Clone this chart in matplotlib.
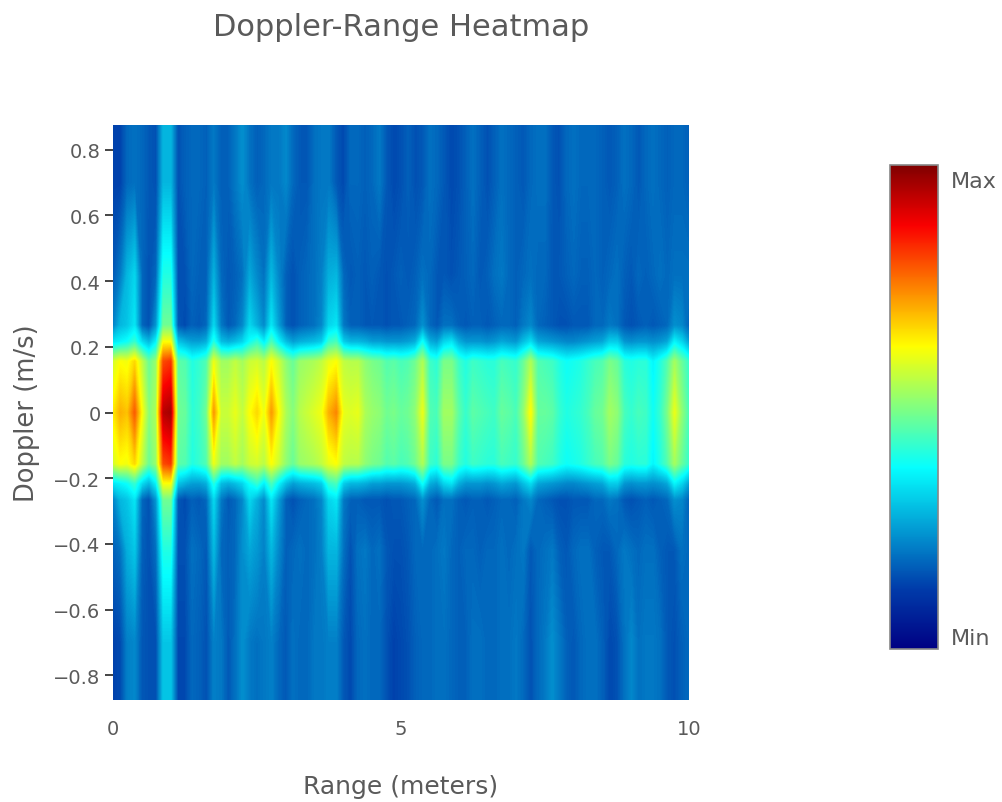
import numpy as np
import matplotlib
matplotlib.use("Agg")
import matplotlib.pyplot as plt
from matplotlib.colors import LinearSegmentedColormap

# range bins, every 0.125 m
rangeBins = np.arange(81) * 0.125

# values per doppler level (0 = Min, 1 = Max)
center = [.64,.70,.68,.78,.62,.50,.54,.94,.96,.48,
          .47,.41,.43,.48,.72,.57,.57,.60,.56,.62,
          .66,.60,.72,.62,.54,.50,.55,.57,.59,.61,
          .70,.74,.60,.59,.60,.54,.52,.51,.48,.49,
          .47,.48,.51,.60,.45,.44,.53,.53,.46,.42,
          .46,.45,.44,.43,.47,.46,.44,.51,.62,.47,
          .47,.46,.42,.40,.41,.42,.44,.47,.48,.53,
          .51,.44,.42,.44,.43,.38,.42,.49,.60,.51,
          .44]
band = [.58,.62,.61,.66,.56,.47,.52,.80,.82,.46,
        .45,.40,.42,.45,.60,.53,.53,.56,.53,.57,
        .58,.55,.62,.57,.51,.47,.52,.53,.54,.56,
        .60,.62,.56,.55,.55,.51,.49,.48,.45,.46,
        .44,.45,.48,.54,.43,.41,.49,.49,.43,.40,
        .43,.42,.41,.41,.44,.43,.42,.47,.54,.45,
        .44,.43,.40,.38,.39,.40,.42,.44,.45,.49,
        .47,.41,.40,.41,.41,.36,.40,.45,.53,.47,
        .42]
shoulder = [.34,.36,.38,.42,.33,.28,.36,.62,.62,.30,
            .27,.25,.25,.27,.40,.29,.27,.29,.32,.38,
            .42,.35,.44,.36,.29,.25,.27,.28,.29,.31,
            .42,.44,.31,.28,.28,.27,.25,.25,.24,.24,
            .24,.25,.27,.38,.27,.25,.32,.34,.27,.24,
            .24,.24,.23,.24,.26,.25,.24,.29,.33,.26,
            .25,.24,.23,.22,.22,.23,.24,.25,.26,.31,
            .31,.24,.23,.24,.24,.23,.24,.26,.36,.32,
            .25]
outer = [.21,.28,.30,.34,.18,.15,.24,.48,.48,.16,
         .14,.17,.16,.18,.32,.20,.16,.18,.22,.32,
         .27,.22,.34,.25,.17,.15,.17,.18,.19,.22,
         .32,.34,.20,.17,.17,.16,.16,.16,.15,.16,
         .16,.17,.18,.23,.18,.16,.19,.19,.17,.16,
         .17,.17,.16,.17,.18,.18,.17,.20,.22,.18,
         .17,.16,.15,.15,.16,.16,.16,.18,.18,.20,
         .19,.16,.15,.16,.17,.16,.17,.18,.23,.22,
         .17]
high04 = [.16,.20,.28,.32,.18,.15,.18,.40,.40,.15,
          .15,.18,.17,.17,.27,.18,.16,.17,.19,.26,
          .22,.19,.28,.22,.17,.15,.17,.18,.19,.21,
          .27,.28,.18,.16,.17,.16,.17,.16,.15,.16,
          .17,.16,.17,.19,.18,.16,.16,.15,.16,.17,
          .18,.16,.17,.19,.20,.18,.17,.18,.19,.18,
          .18,.16,.16,.17,.18,.17,.17,.18,.17,.18,
          .19,.17,.16,.18,.17,.18,.19,.18,.19,.19,
          .19]
low04 = [.17,.19,.27,.30,.17,.15,.19,.40,.40,.15,
         .15,.19,.18,.16,.28,.18,.17,.18,.23,.26,
         .24,.21,.28,.22,.17,.18,.19,.18,.19,.21,
         .28,.28,.19,.15,.19,.20,.18,.19,.16,.15,
         .15,.16,.18,.18,.18,.19,.20,.18,.17,.18,
         .18,.17,.18,.18,.19,.18,.19,.20,.16,.18,
         .19,.20,.17,.16,.18,.19,.19,.17,.16,.16,
         .18,.20,.19,.18,.19,.19,.17,.16,.16,.19,
         .18]
high07 = [.13,.13,.18,.19,.18,.16,.15,.28,.28,.15,
          .17,.18,.18,.17,.20,.17,.17,.20,.23,.19,
          .17,.18,.20,.20,.22,.18,.16,.16,.19,.20,
          .20,.16,.14,.18,.18,.17,.18,.20,.16,.14,
          .15,.17,.15,.16,.19,.18,.16,.14,.15,.17,
          .19,.17,.15,.17,.19,.18,.17,.16,.18,.19,
          .19,.16,.15,.18,.19,.18,.18,.18,.17,.16,
          .17,.19,.18,.16,.18,.19,.18,.17,.18,.18,
          .17]
low07 = [.13,.14,.21,.22,.16,.15,.15,.30,.30,.14,
         .14,.18,.17,.15,.21,.20,.16,.19,.23,.20,
         .19,.20,.21,.18,.16,.19,.18,.18,.20,.20,
         .21,.21,.16,.14,.18,.19,.18,.18,.15,.13,
         .14,.15,.17,.18,.18,.19,.19,.18,.17,.17,
         .19,.19,.18,.18,.19,.19,.20,.18,.15,.18,
         .20,.23,.20,.17,.16,.18,.19,.19,.17,.14,
         .15,.19,.22,.19,.20,.20,.19,.16,.15,.17,
         .18]

dopplerLevels = [-0.875, -0.7, -0.42, -0.265, -0.215, -0.155, 0, 0.155, 0.215, 0.265, 0.42, 0.7, 0.875]
levelRows = [low07, low07, low04, outer, shoulder, band, center, band, shoulder, outer, high04, high07, high07]

yTicks = [-0.8, -0.6, -0.4, -0.2, 0, 0.2, 0.4, 0.6, 0.8]
yTickLabels = ["\u22120.8", "\u22120.6", "\u22120.4", "\u22120.2", "0", "0.2", "0.4", "0.6", "0.8"]
xTicks = [0, 5, 10]

#########################
# Plotly style jet
#########################
JET = LinearSegmentedColormap.from_list("plotlyJet", [
    (0.0, (0, 0, 131/255)),
    (0.125, (0, 60/255, 170/255)),
    (0.375, (5/255, 1, 1)),
    (0.625, (1, 1, 0)),
    (0.875, (250/255, 0, 0)),
    (1.0, (128/255, 0, 0))], N=512)

W, H = 1002, 803
TEXT_COLOR = "#5a5a5a"
plt.rcParams["font.family"] = ["DejaVu Sans"]

fig = plt.figure(figsize=(W/100, H/100), dpi=100)
ax = fig.add_axes([113/W, 1 - 701/H, 576/W, 575/H])

Z = np.array(levelRows)
cs = ax.contourf(rangeBins, dopplerLevels, Z, levels=np.linspace(0, 1, 257), cmap=JET, vmin=0, vmax=1, antialiased=False)
ax.set_xlim(0, 10)
ax.set_ylim(-0.875, 0.875)
for s in ax.spines.values():
    s.set_visible(False)

ax.set_yticks(yTicks)
ax.set_yticklabels(yTickLabels)
ax.set_xticks(xTicks)
ax.tick_params(axis="y", length=6, width=1.4, color="#444444", labelcolor=TEXT_COLOR, labelsize=14, pad=3)
ax.tick_params(axis="x", length=0, labelcolor=TEXT_COLOR, labelsize=14, pad=14)

fig.text(401/W, 1 - 27/H, "Doppler-Range Heatmap", ha="center", va="center", fontsize=22, color=TEXT_COLOR)
fig.text(401/W, 1 - 787/H, "Range (meters)", ha="center", va="center", fontsize=18, color=TEXT_COLOR)
fig.text(27/W, 1 - 413/H, "Doppler (m/s)", ha="center", va="center", rotation=90, fontsize=18.5, color=TEXT_COLOR)

# colorbar
cax = fig.add_axes([890/W, 1 - 650/H, 48/W, 484/H])
cb = fig.colorbar(plt.cm.ScalarMappable(norm=plt.Normalize(0, 1), cmap=JET), cax=cax)
cb.set_ticks([0.027, 0.971])
cb.set_ticklabels(["Min", "Max"])
cb.ax.tick_params(length=0, labelcolor=TEXT_COLOR, labelsize=16, pad=9)
cb.outline.set_edgecolor("#888888")
cb.outline.set_linewidth(1.2)

fig.savefig("out.png", dpi=100)
